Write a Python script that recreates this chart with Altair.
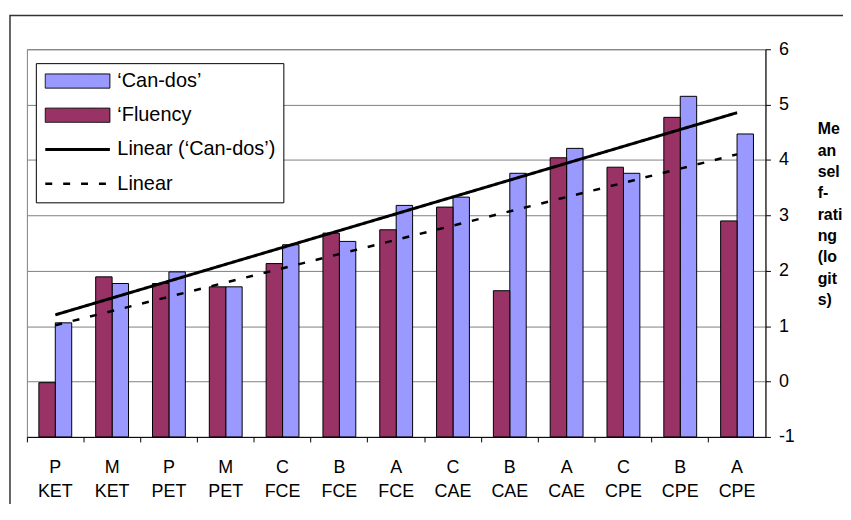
import altair as alt
import pandas as pd

# ---- data ----
cats = ["P KET", "M KET", "P PET", "M PET", "C FCE", "B FCE", "A FCE",
        "C CAE", "B CAE", "A CAE", "C CPE", "B CPE", "A CPE"]
candos = [1.06, 1.77, 1.98, 1.71, 2.47, 2.53, 3.18, 3.33, 3.76, 4.21, 3.76, 5.15, 4.47]
fluency = [-0.02, 1.89, 1.77, 1.71, 2.13, 2.68, 2.74, 3.15, 1.64, 4.04, 3.87, 4.77, 2.90]

CAN = "\u2018Can-dos\u2019"
FLU = "\u2018Fluency"
LIN_CAN = "Linear (\u2018Can-dos\u2019)"
LIN_FLU = "Linear"
series_names = [CAN, FLU, LIN_CAN, LIN_FLU]

y_ticks = [-1, 0, 1, 2, 3, 4, 5, 6]
y_title = ["Me", "an", "sel", "f-", "rati", "ng", "(lo", "git", "s)"]

# ---- styles ----
fill_colors = ["#9999FF", "#993366", "transparent", "transparent"]
stroke_colors = ["black", "black", "black", "black"]
dash_styles = [[1, 0], [1, 0], [1, 0], [7, 11]]
stroke_widths = [1, 1, 3, 2.5]
rect_path = "M-1,-0.22H1V0.22H-1Z"
line_path = "M-1,0H1"
shapes = [rect_path, rect_path, line_path, line_path]

rows = []
for i, c in enumerate(cats):
    rows.append({"cat": c, "idx": i + 1, "series": CAN, "value": candos[i]})
    rows.append({"cat": c, "idx": i + 1, "series": FLU, "value": fluency[i]})
df = pd.DataFrame(rows)

fill_scale = alt.Scale(domain=series_names, range=fill_colors)
stroke_scale = alt.Scale(domain=series_names, range=stroke_colors)
dash_scale = alt.Scale(domain=series_names, range=dash_styles)
sw_scale = alt.Scale(type="ordinal", domain=series_names, range=stroke_widths)
y_scale = alt.Scale(domain=[-1, 6], nice=False, zero=False)

frame = alt.Chart(pd.DataFrame({"k": [0]})).mark_rect(
    fill="transparent", stroke="#333333", strokeWidth=1.5
).encode(x=alt.value(-17), x2=alt.value(1000), y=alt.value(-34), y2=alt.value(1000))

bars = alt.Chart(df).mark_bar(stroke="black", strokeWidth=1).encode(
    x=alt.X("cat:N", sort=cats, scale=alt.Scale(paddingInner=0, paddingOuter=0),
            axis=alt.Axis(title=None, labelExpr="split(datum.label, ' ')", labelAngle=0,
                          labelFontSize=18, labelLineHeight=24, labelPadding=17,
                          labelColor="black", tickSize=5, tickColor="black",
                          domainColor="black", bandPosition=0, grid=False)),
    xOffset=alt.XOffset("series:N", sort=[FLU, CAN],
                        scale=alt.Scale(paddingInner=0, paddingOuter=0.73)),
    y=alt.Y("value:Q", scale=y_scale,
            axis=alt.Axis(orient="right", values=y_ticks, labelExpr="'' + datum.value",
                          tickSize=5, tickColor="black",
                          domainColor="black", labelFontSize=18, labelColor="black",
                          labelPadding=8, grid=True, gridColor="#808080",
                          title=y_title, titleAngle=0, titleAlign="left",
                          titleBaseline="top", titleX=52, titleY=72, titleFontSize=16,
                          titleFontWeight="bold", titleLineHeight=21.5, titleColor="black")),
    y2=alt.datum(-1),
    fill=alt.Fill("series:N", scale=fill_scale, title=None),
)

lines = alt.Chart(df).transform_regression(
    "idx", "value", groupby=["series"]
).transform_calculate(
    series="datum.series == '" + CAN + "' ? '" + LIN_CAN + "' : '" + LIN_FLU + "'"
).mark_line().encode(
    x=alt.X("idx:Q", scale=alt.Scale(domain=[0.5, 13.5], nice=False, zero=False), axis=None),
    y=alt.Y("value:Q", scale=y_scale),
    stroke=alt.Stroke("series:N", scale=stroke_scale, title=None),
    strokeDash=alt.StrokeDash("series:N", scale=dash_scale, title=None),
    strokeWidth=alt.StrokeWidth("series:N", scale=sw_scale, title=None),
)

leg = alt.Chart(pd.DataFrame({"series": series_names})).transform_filter("false").mark_point(
    filled=True, opacity=1
).encode(
    shape=alt.Shape("series:N", scale=alt.Scale(domain=series_names, range=shapes), title=None),
    fill=alt.Fill("series:N", scale=fill_scale, title=None),
    stroke=alt.Stroke("series:N", scale=stroke_scale, title=None),
    strokeDash=alt.StrokeDash("series:N", scale=dash_scale, title=None),
    strokeWidth=alt.StrokeWidth("series:N", scale=sw_scale, title=None),
)

chart = alt.layer(frame, bars, lines, leg).resolve_scale(x="independent").properties(
    width=743, height=390,
    autosize=alt.AutoSizeParams(type="none"),
    padding={"left": 19, "top": 40, "right": 78, "bottom": 66},
).configure(font="Liberation Sans").configure_view(
    stroke="#808080", strokeWidth=1
).configure_legend(
    orient="none", legendX=9, legendY=14, strokeColor="black", fillColor="white",
    padding=8, symbolSize=4225, clipHeight=20, rowPadding=14.4, labelFontSize=20,
    labelColor="black", labelOffset=6, symbolFillColor="transparent",
    symbolStrokeColor="black", symbolOffset=0, symbolOpacity=1
)

chart.save("out.html", embed_options={"renderer": "svg", "actions": False})
